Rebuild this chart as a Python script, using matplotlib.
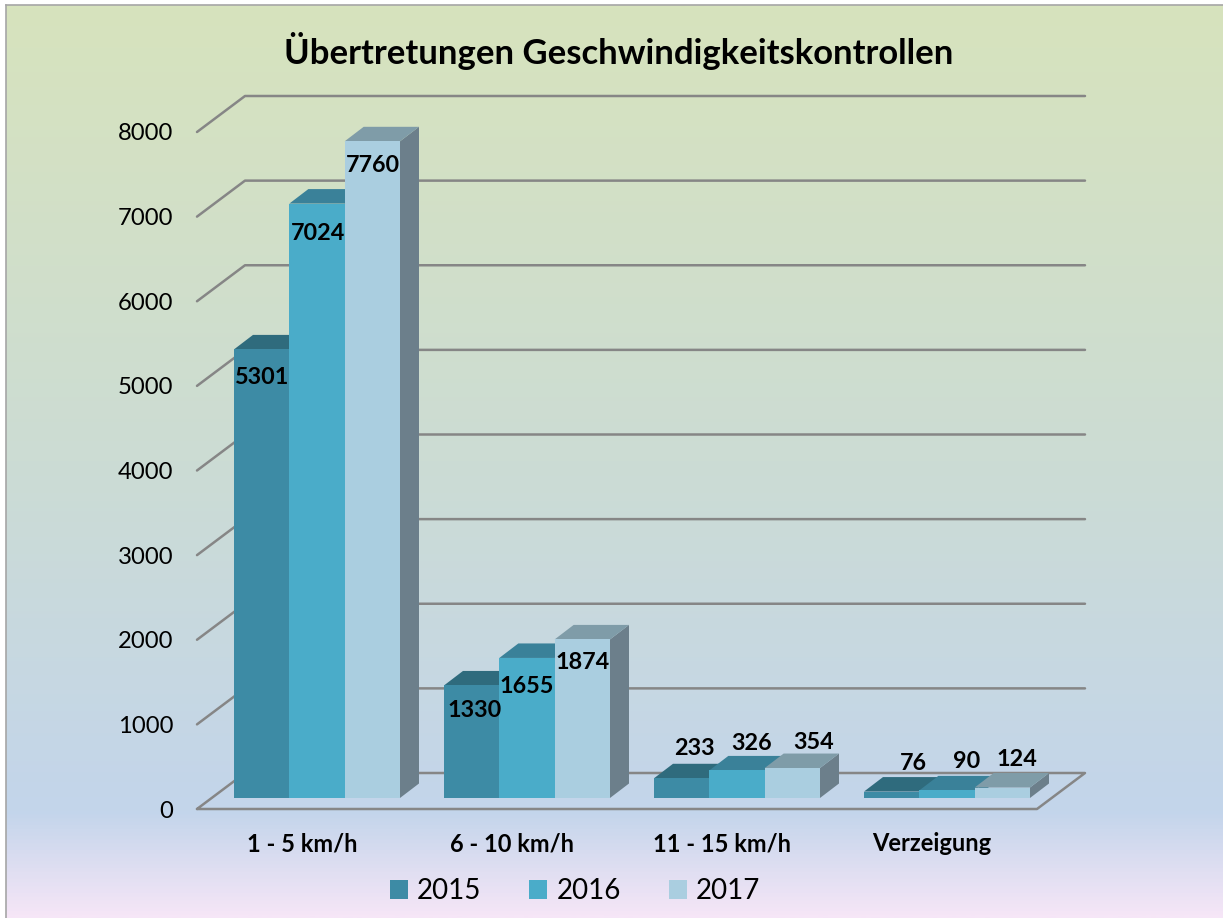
import numpy as np
import matplotlib
matplotlib.use("Agg")
import matplotlib.pyplot as plt
from matplotlib.colors import LinearSegmentedColormap
from matplotlib.patches import Polygon, Patch

categories = ["1 - 5 km/h", "6 - 10 km/h", "11 - 15 km/h", "Verzeigung"]
years = ["2015", "2016", "2017"]
v2015 = [5301, 1330, 233, 76]
v2016 = [7024, 1655, 326, 90]
v2017 = [7760, 1874, 354, 124]
yticks = [0, 1000, 2000, 3000, 4000, 5000, 6000, 7000, 8000]
title = "Übertretungen Geschwindigkeitskontrollen"

# styles and layout
front = ["#3d8ba5", "#4aacc9", "#aacee0"]
top = ["#2f6b7d", "#3a8199", "#7f9ca8"]
side = ["#2c6475", "#37809a", "#6c7f8b"]
grid = "#868686"
label_off = [[(0, 28), (3, 25), (13, -30), (22, -28)],
             [(1, 29.5), (0, 28.5), (15, -27), (20, -29)],
             [(1, 24), (0, 23), (21, -26), (15, -28)]]
W, H = 1223, 918
FONT = "Lato"

fig = plt.figure(figsize=(W / 100, H / 100), dpi=100, facecolor="white")

# background gradient
bg = fig.add_axes([6 / W, 0, (W - 6) / W, (H - 5) / H], zorder=0)
cmap = LinearSegmentedColormap.from_list(
    "bg", [(0, "#d7e3bd"), (0.5, "#ccdcd4"), (0.885, "#c3d5eb"), (1, "#f6e6f7")])
bg.imshow(np.linspace(0, 1, 512)[:, None], aspect="auto", cmap=cmap, vmin=0, vmax=1)
bg.set_xticks([]); bg.set_yticks([])
for name, s in bg.spines.items():
    if name in ("left", "top"):
        s.set_color("#a6a6a6"); s.set_linewidth(1.2)
    else:
        s.set_visible(False)

# front plane of the chart
x0, x1, y0, y1 = 197, 1037, 809, 132
ax = fig.add_axes([x0 / W, (H - y0) / H, (x1 - x0) / W, (y0 - y1) / H], zorder=1)
ax.patch.set_alpha(0)
ax.set_xlim(0, len(categories))
ax.set_ylim(0, 8000)
pxx = (x1 - x0) / len(categories)
pxy = (y0 - y1) / 8000
DX, DY = 48 / pxx, 36 / pxy            # wall depth
OX, OY = 15 / pxx, 11 / pxy            # bar offset in depth
SX, SY = 19 / pxx, 14.5 / pxy          # bar depth
GAP = 22 / pxx
BW = (1 - 2 * GAP) / 3

for v in yticks:
    if v == 0:
        xs = [0, len(categories), len(categories) + DX, DX, 0]
        ys = [0, 0, DY, DY, 0]
    else:
        xs = [0, DX, len(categories) + DX]
        ys = [v, v + DY, v + DY]
    ax.plot(xs, ys, color=grid, lw=1.8, clip_on=False, zorder=1, solid_capstyle="round")

series = [v2015, v2016, v2017]
for c in range(len(categories)):
    for s, vals in enumerate(series):
        v = vals[c]
        l = c + GAP + s * BW + OX
        r = l + BW
        b = OY
        t = OY + v
        z = 2 + s
        ax.add_patch(Polygon([(r, b), (r + SX, b + SY), (r + SX, t + SY), (r, t)],
                             fc=side[s], ec="none", clip_on=False, zorder=z))
        ax.add_patch(Polygon([(l, t), (l + SX, t + SY), (r + SX, t + SY), (r, t)],
                             fc=top[s], ec="none", clip_on=False, zorder=z))
        ax.add_patch(Polygon([(l, b), (r, b), (r, t), (l, t)],
                             fc=front[s], ec="none", clip_on=False, zorder=z))
for c in range(len(categories)):
    for s, vals in enumerate(series):
        dx, dy = label_off[s][c]
        l = c + GAP + s * BW + OX
        ax.annotate(str(vals[c]), xy=(l + BW / 2, OY + vals[c]),
                    xytext=(dx * 0.72, -dy * 0.72), textcoords="offset points",
                    ha="center", va="center", fontsize=16.8, fontweight="bold",
                    family=FONT, color="black", zorder=10)

ax.set_yticks(yticks)
ax.set_yticklabels([str(v) for v in yticks], family=FONT, fontsize=17.2)
ax.set_xticks(np.arange(len(categories)) + 0.5)
ax.set_xticklabels(categories, family=FONT, fontsize=17, fontweight="bold")
ax.tick_params(axis="y", length=0, pad=17)
ax.tick_params(axis="x", length=0, pad=16.8)
for s in ax.spines.values():
    s.set_visible(False)

fig.text(619 / W, 1 - 51 / H, title, ha="center", va="center",
         family=FONT, fontsize=24.9, fontweight="bold", color="black")

handles = [Patch(fc=front[i], ec="none", label=years[i]) for i in range(3)]
fig.legend(handles=handles, loc="center", bbox_to_anchor=(575 / W, 1 - 891 / H),
           ncol=3, frameon=False, prop={"family": FONT, "size": 20},
           handlelength=0.65, handleheight=0.65, handletextpad=0.32, columnspacing=1.735)

fig.savefig("out.png", dpi=100, facecolor="white")
